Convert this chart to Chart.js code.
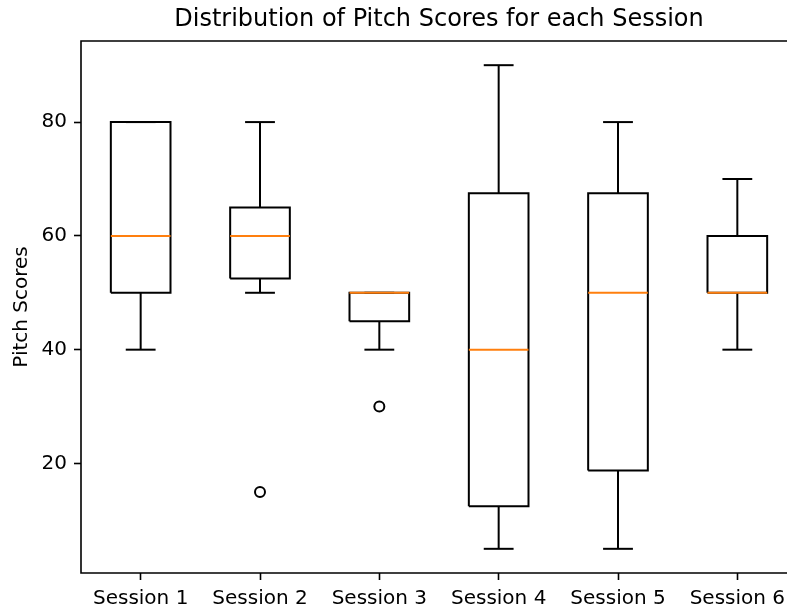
<!DOCTYPE html>
<html>
<head>
<meta charset="utf-8">
<script src="https://cdn.jsdelivr.net/npm/chart.js@4.4.1/dist/chart.umd.min.js"></script>
<style>
  html, body { margin: 0; padding: 0; background: #fff; overflow: hidden; }
  #clip { position: absolute; left: 0; top: 0; width: 787px; height: 609px; overflow: hidden; }
  #wrap { position: absolute; left: 0; top: 0; width: 878px; height: 609px; }
</style>
</head>
<body>
<div id="clip"><div id="wrap"><canvas id="c" width="878" height="609"></canvas></div></div>
<script>
// ---- data ----
const categories   = ['Session 1', 'Session 2', 'Session 3', 'Session 4', 'Session 5', 'Session 6'];
const whiskerLow   = [40, 50, 40, 5, 5, 40];
const quartile1    = [50, 52.5, 45, 12.5, 18.75, 50];
const medians      = [60, 60, 50, 40, 50, 50];
const quartile3    = [80, 65, 50, 67.5, 67.5, 60];
const whiskerHigh  = [80, 80, 50, 90, 80, 70];
const outliers     = [[], [15], [30], [], [], []];
const yTickValues  = [20, 40, 60, 80];
const positions    = [1, 2, 3, 4, 5, 6];

// ---- styling ----
const BOX_HALF = 0.25, CAP_HALF = 0.125;
const LINE = '#000000', MED = '#ff7f0e', LW = 2;
const FONT = "'DejaVu Sans', sans-serif";

const datasets = [];
function seg(points, color, order) {
  datasets.push({
    type: 'scatter', data: points, showLine: true, borderColor: color,
    borderWidth: LW, pointRadius: 0, pointHoverRadius: 0, tension: 0,
    fill: false, order: order, borderCapStyle: 'butt', borderJoinStyle: 'miter'
  });
}
positions.forEach((x, i) => {
  seg([{x: x - BOX_HALF, y: medians[i]}, {x: x + BOX_HALF, y: medians[i]}], MED, 0);
  seg([
    {x: x - BOX_HALF, y: quartile1[i]}, {x: x + BOX_HALF, y: quartile1[i]},
    {x: x + BOX_HALF, y: quartile3[i]}, {x: x - BOX_HALF, y: quartile3[i]},
    {x: x - BOX_HALF, y: quartile1[i]}
  ], LINE, 1);
  seg([{x: x, y: quartile1[i]}, {x: x, y: whiskerLow[i]}], LINE, 1);
  seg([{x: x, y: quartile3[i]}, {x: x, y: whiskerHigh[i]}], LINE, 1);
  seg([{x: x - CAP_HALF, y: whiskerLow[i]}, {x: x + CAP_HALF, y: whiskerLow[i]}], LINE, 1);
  seg([{x: x - CAP_HALF, y: whiskerHigh[i]}, {x: x + CAP_HALF, y: whiskerHigh[i]}], LINE, 1);
});
const fliers = [];
positions.forEach((x, i) => outliers[i].forEach(v => fliers.push({x: x, y: v})));
datasets.push({
  type: 'scatter', data: fliers, showLine: false, pointStyle: 'circle',
  pointRadius: 5, pointBorderWidth: 2, pointBorderColor: LINE,
  pointBackgroundColor: 'rgba(0,0,0,0)', order: 0
});

// axes frame: left, bottom and top spines (right spine lies beyond the visible page)
const frame = {
  id: 'frame',
  afterDatasetsDraw(chart) {
    const a = chart.chartArea, ctx = chart.ctx;
    ctx.save();
    ctx.strokeStyle = '#000';
    ctx.lineWidth = 1.6;
    ctx.beginPath();
    ctx.moveTo(a.right, a.top);
    ctx.lineTo(a.left, a.top);
    ctx.lineTo(a.left, a.bottom);
    ctx.lineTo(a.right, a.bottom);
    ctx.stroke();
    ctx.restore();
  }
};

Chart.defaults.font.family = FONT;
Chart.defaults.color = '#000';

new Chart(document.getElementById('c'), {
  type: 'scatter',
  data: { datasets },
  plugins: [frame],
  options: {
    responsive: false, animation: false, devicePixelRatio: 1,
    layout: { padding: 0 },
    plugins: {
      legend: { display: false }, tooltip: { enabled: false },
      title: {
        display: true, text: 'Distribution of Pitch Scores for each Session',
        font: { size: 24, weight: 'normal', family: FONT }, color: '#000',
        padding: { top: 5, bottom: 7.2 }
      }
    },
    scales: {
      x: {
        type: 'linear', position: 'bottom', min: 0.5, max: 6.5,
        afterBuildTicks: s => { s.ticks = positions.map(v => ({ value: v })); },
        afterFit: s => { s.height = 36; },
        ticks: {
          callback: v => categories[positions.indexOf(v)] ?? '',
          font: { size: 20, family: FONT }, color: '#000', padding: 7,
          maxRotation: 0, autoSkip: false
        },
        grid: { drawOnChartArea: false, tickLength: 7, tickColor: '#000', tickWidth: 1.6 },
        border: { display: false }
      },
      y: {
        type: 'linear', position: 'left', min: 0.75, max: 94.25,
        afterBuildTicks: s => { s.ticks = yTickValues.map(v => ({ value: v })); },
        afterFit: s => { s.width = 81; },
        ticks: { font: { size: 20, family: FONT }, color: '#000', padding: 7 },
        grid: { drawOnChartArea: false, tickLength: 7, tickColor: '#000', tickWidth: 1.6 },
        border: { display: false },
        title: {
          display: true, text: 'Pitch Scores', color: '#000',
          font: { size: 20, family: FONT }, padding: { top: 10, bottom: 0 }
        }
      },
      yR: {
        type: 'linear', position: 'right', display: true,
        afterFit: s => { s.width = 81; },
        ticks: { display: false }, grid: { display: false }, border: { display: false }
      }
    }
  }
});
</script>
</body>
</html>
